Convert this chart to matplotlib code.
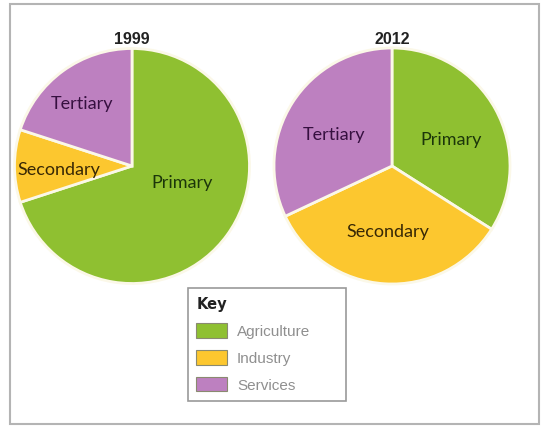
import matplotlib
matplotlib.use('Agg')
import matplotlib.pyplot as plt
from matplotlib.patches import Rectangle, Patch

# data
sectors = ['Primary', 'Secondary', 'Tertiary']
key_labels = ['Agriculture', 'Industry', 'Services']
years = ['1999', '2012']
share_1999 = [70, 10, 20]
share_2012 = [34, 34, 32]

colors = ['#8fc031', '#fcc72f', '#bd80c0']
text_colors = ['#1c360a', '#382805', '#361040']

W, H = 541, 427
fig = plt.figure(figsize=(W / 100, H / 100), dpi=100)
ax = fig.add_axes([0, 0, 1, 1])

lab_font = 'Lato'

# pixel layout (y measured from top of picture)
pies = [
    dict(vals=share_1999, cx=132, cy=167, r=117.5,
         lab_pos=[(182, 183), (59, 170), (82, 104)], title_x=132),
    dict(vals=share_2012, cx=392, cy=167, r=118,
         lab_pos=[(451, 140), (388, 232), (334, 135)], title_x=392),
]

for year, p in zip(years, pies):
    ax.pie(p['vals'], colors=colors, startangle=90, counterclock=False,
           center=(p['cx'], H - p['cy']), radius=p['r'], frame=True,
           wedgeprops=dict(edgecolor='#fbf8e8', linewidth=2))
    for name, (x, y), tc in zip(sectors, p['lab_pos'], text_colors):
        ax.text(x, H - y, name, ha='center', va='center', fontsize=13,
                family=lab_font, color=tc)
    ax.text(p['title_x'], H - 40, year, ha='center', va='center',
            fontsize=11.5, fontweight='bold', family='Liberation Sans',
            color='#222222')

ax.set_xlim(0, W)
ax.set_ylim(0, H)
ax.set_aspect('equal')
ax.axis('off')

handles = [Patch(facecolor=c, edgecolor='#8a8a70', linewidth=0.8) for c in colors]
leg = ax.legend(handles, key_labels, loc='upper left', mode='expand',
                bbox_to_anchor=(188 / W, 1 - 406 / H, 158 / W, 117 / H),
                bbox_transform=ax.transAxes, borderaxespad=0,
                title='Key', alignment='left', fancybox=False, framealpha=1,
                edgecolor='#9a9a9a', prop=dict(family='Liberation Sans', size=11),
                labelcolor='#8f8f8f', handlelength=2.0, handleheight=1.1,
                labelspacing=0.75, handletextpad=0.65, borderpad=0.55)
leg.get_title().set_fontweight('bold')
leg.get_title().set_fontsize(10.5)
leg.get_title().set_color('#222222')
leg.get_frame().set_linewidth(1.2)

# outer frame
fig.patches.append(Rectangle((10 / W, 1 - 425 / H), 529 / W, 420 / H,
                             transform=fig.transFigure, fill=False,
                             edgecolor='#b4b4b4', linewidth=1.5))

fig.savefig('out.png', dpi=100)
